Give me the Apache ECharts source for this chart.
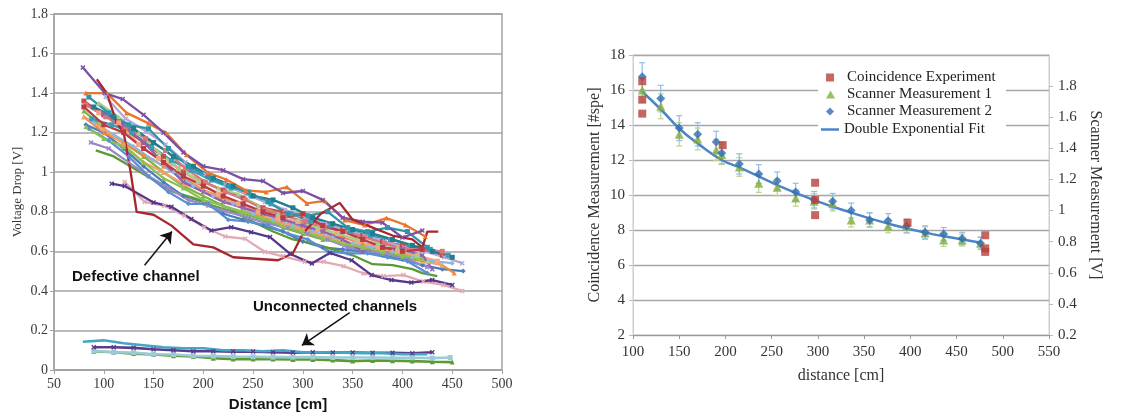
<!DOCTYPE html>
<html><head><meta charset="utf-8">
<script src="https://cdn.jsdelivr.net/npm/echarts/dist/echarts.min.js"></script>
<style>html,body{margin:0;padding:0;background:#fff}#c{width:1142px;height:417px}</style>
</head><body><div id="c"></div>
<script>
// ---------- LEFT PANEL DATA (distance cm, voltage drop V) ----------
const leftXTicks = [50,100,150,200,250,300,350,400,450,500];
const chPurpleTop = [[79,1.53],[101,1.40],[119,1.37],[140,1.29],[160,1.20],[180,1.10],[200,1.03],[220,1.01],[240,0.965],[260,0.955],[280,0.895],[300,0.905],[320,0.86],[340,0.77],[360,0.75],[380,0.745],[400,0.67],[420,0.705]];
const chOrangeTop = [[82,1.40],[103,1.40],[123,1.30],[145,1.247],[163,1.197],[183,1.088],[205,0.997],[223,0.963],[243,0.908],[263,0.90],[284,0.925],[304,0.842],[322,0.855],[342,0.758],[362,0.733],[384,0.768],[403,0.733],[423,0.675]];
const chDefective = [[93,1.47],[103,1.40],[113,1.25],[120,1.20],[127,1.00],[133,0.80],[150,0.785],[168,0.73],[190,0.635],[210,0.62],[230,0.57],[275,0.555],[290,0.59],[300,0.69],[318,0.79],[337,0.845],[350,0.76],[370,0.72],[390,0.68],[410,0.66],[420,0.62],[425,0.70],[436,0.70]];
const chIndigoLow = [[108,0.942],[121,0.93],[150,0.847],[168,0.825],[188,0.763],[208,0.705],[228,0.722],[248,0.697],[267,0.672],[287,0.588],[309,0.538],[327,0.592],[349,0.555],[369,0.48],[389,0.455],[409,0.442],[430,0.455],[450,0.43]];
const chPinkLow = [[121,0.95],[141,0.85],[161,0.83],[181,0.78],[201,0.722],[222,0.675],[242,0.663],[262,0.597],[280,0.575],[302,0.547],[321,0.547],[341,0.525],[361,0.488],[381,0.475],[401,0.48],[421,0.447],[441,0.43],[460,0.40]];
const chA = [[82,1.24],[100,1.20],[120,1.12],[140,1.03],[160,0.95],[180,0.88],[200,0.85],[220,0.79],[240,0.76],[260,0.73],[280,0.70],[300,0.65],[320,0.62],[340,0.61],[360,0.60],[380,0.58],[400,0.56],[420,0.53],[440,0.51],[461,0.50]];
const chB = [[80,1.31],[100,1.22],[120,1.15],[140,1.08],[160,1.00],[180,0.93],[200,0.88],[220,0.83],[240,0.79],[260,0.76],[280,0.72],[300,0.69],[320,0.66],[340,0.64],[360,0.61],[380,0.59],[400,0.57],[420,0.55]];
const chC = [[92,1.11],[110,1.08],[130,1.02],[150,0.96],[170,0.90],[190,0.87],[210,0.83],[230,0.80],[250,0.75],[270,0.70],[290,0.66],[310,0.64],[330,0.61],[350,0.58],[370,0.535],[390,0.53],[410,0.51],[420,0.49],[435,0.475]];
const chD = [[87,1.15],[105,1.12],[125,1.05],[145,0.98],[165,0.92],[185,0.86],[205,0.83],[225,0.80],[245,0.77],[265,0.74],[285,0.72],[305,0.69],[325,0.66],[345,0.62],[365,0.60],[385,0.59],[405,0.56],[425,0.52]];
const chE = [[85,1.38],[105,1.30],[125,1.24],[145,1.22],[165,1.12],[185,1.03],[205,0.98],[225,0.93],[245,0.90],[265,0.85],[285,0.79],[305,0.78],[325,0.80],[345,0.72],[365,0.70],[385,0.72],[405,0.70],[425,0.62]];
const chF = [[88,1.27],[108,1.24],[128,1.20],[148,1.13],[168,1.06],[188,1.01],[208,0.96],[228,0.92],[248,0.88],[268,0.84],[288,0.79],[308,0.75],[328,0.73],[348,0.70],[368,0.68],[388,0.66],[408,0.63],[428,0.61],[446,0.58]];
const chG = [[80,1.36],[100,1.29],[120,1.22],[140,1.15],[160,1.08],[180,1.00],[200,0.95],[220,0.91],[240,0.87],[260,0.82],[280,0.80],[300,0.78],[320,0.73],[340,0.71],[360,0.68],[380,0.65],[400,0.63],[420,0.61],[440,0.58]];
const chH = [[80,1.28],[100,1.20],[120,1.15],[140,1.09],[160,1.03],[180,0.97],[200,0.91],[220,0.87],[240,0.82],[260,0.79],[280,0.76],[300,0.72],[320,0.70],[340,0.67],[360,0.64],[380,0.62],[400,0.59],[420,0.56],[440,0.53],[452,0.49]];
const chI = [[95,1.30],[115,1.25],[135,1.14],[155,1.07],[175,1.02],[195,0.95],[215,0.89],[235,0.84],[255,0.80],[275,0.77],[295,0.75],[315,0.71],[335,0.69],[355,0.65],[375,0.62],[395,0.60],[415,0.58],[435,0.55]];
const chJ = [[90,1.25],[110,1.19],[130,1.13],[150,1.06],[170,1.00],[190,0.93],[210,0.88],[230,0.84],[250,0.79],[270,0.76],[290,0.73],[310,0.70],[330,0.67],[350,0.64],[370,0.62],[390,0.60],[410,0.57],[430,0.55],[450,0.54]];
const chK = [[95,1.35],[115,1.28],[135,1.20],[155,1.10],[175,1.02],[195,0.96],[215,0.92],[235,0.89],[255,0.83],[275,0.79],[295,0.76],[315,0.72],[335,0.69],[355,0.66],[375,0.64],[395,0.62],[415,0.58],[425,0.55]];
const chL = [[102,1.38],[122,1.27],[142,1.21],[162,1.14],[182,1.05],[202,0.99],[222,0.94],[242,0.89],[262,0.85],[282,0.81],[302,0.77],[322,0.74],[342,0.71],[362,0.68],[382,0.65],[402,0.62],[422,0.60],[442,0.57],[460,0.54]];
const chM = [[82,1.34],[102,1.28],[122,1.23],[142,1.17],[162,1.11],[182,1.02],[202,0.95],[222,0.90],[242,0.86],[262,0.81],[282,0.78],[302,0.75],[322,0.72],[342,0.70],[362,0.67],[382,0.64],[402,0.61],[422,0.61],[440,0.60]];
const chN = [[85,1.22],[105,1.16],[125,1.08],[145,0.98],[165,0.90],[185,0.84],[205,0.84],[225,0.76],[245,0.75],[265,0.73],[285,0.69],[305,0.66],[325,0.60],[345,0.59],[365,0.59],[385,0.57],[405,0.55],[425,0.49]];
const chO = [[80,1.28],[100,1.22],[120,1.14],[140,1.05],[160,1.00],[180,0.94],[200,0.91],[220,0.86],[240,0.82],[260,0.78],[280,0.74],[300,0.71],[320,0.68],[340,0.65],[360,0.62],[380,0.61],[400,0.60],[420,0.55],[440,0.53]];
const chP = [[100,1.30],[120,1.24],[140,1.15],[160,1.05],[180,0.95],[200,0.90],[220,0.85],[240,0.82],[260,0.79],[280,0.76],[300,0.73],[320,0.70],[340,0.66],[360,0.60],[380,0.62],[400,0.61],[420,0.58],[430,0.51]];
const chQ = [[82,1.23],[100,1.17],[120,1.13],[140,1.05],[160,0.97],[180,0.92],[200,0.86],[220,0.83],[240,0.80],[260,0.77],[280,0.73],[300,0.70],[320,0.67],[340,0.64],[360,0.62],[380,0.60],[400,0.58],[420,0.56]];
const chR = [[90,1.33],[110,1.28],[130,1.22],[150,1.15],[170,1.08],[190,1.03],[210,0.97],[230,0.93],[250,0.88],[270,0.86],[290,0.82],[310,0.77],[330,0.74],[350,0.71],[370,0.69],[390,0.66],[410,0.63],[430,0.60],[450,0.57]];
const chS = [[80,1.33],[100,1.24],[120,1.20],[140,1.12],[160,1.05],[180,0.98],[200,0.93],[220,0.88],[240,0.84],[260,0.80],[280,0.77],[300,0.79],[320,0.73],[340,0.70],[360,0.66],[380,0.62],[400,0.60],[420,0.61]];
// unconnected channels
const ucTeal = [[79,0.143],[100,0.15],[120,0.135],[140,0.125],[160,0.115],[180,0.11],[200,0.11],[220,0.10],[240,0.10],[260,0.095],[280,0.10],[300,0.09],[320,0.09],[340,0.088],[360,0.085],[380,0.085],[400,0.08],[425,0.08]];
const ucPurple = [[90,0.115],[110,0.115],[130,0.112],[150,0.105],[170,0.10],[190,0.095],[210,0.095],[230,0.093],[250,0.093],[270,0.09],[290,0.088],[310,0.09],[330,0.088],[350,0.088],[370,0.087],[390,0.087],[410,0.085],[430,0.09]];
const ucGreen = [[90,0.095],[110,0.09],[130,0.083],[150,0.078],[170,0.072],[190,0.068],[210,0.06],[230,0.055],[250,0.055],[270,0.055],[290,0.053],[310,0.053],[330,0.05],[350,0.045],[370,0.048],[390,0.047],[410,0.045],[430,0.042],[450,0.04]];
const ucLightBlue = [[90,0.097],[110,0.09],[130,0.088],[150,0.08],[170,0.078],[190,0.072],[210,0.07],[230,0.068],[250,0.067],[270,0.065],[290,0.065],[310,0.065],[330,0.063],[350,0.063],[370,0.063],[390,0.062],[410,0.062],[430,0.06],[448,0.063]];
// annotation arrows (data coordinates: from, to)
const arrowDefective = [[141,0.53],[168.5,0.70]];
const arrowUnconnected = [[347,0.29],[299,0.125]];

// ---------- RIGHT PANEL DATA ----------
const coincX = [110,110,110,197,297,297,297,397,481,481,481];
const coincY = [16.5,15.45,14.65,12.85,10.7,9.72,8.85,8.42,7.7,6.95,6.75];
const scanX  = [110,130,150,170,190,196,215,236,256,276,296,316,336,356,376,396,416,436,456,476];
const scan1V = [1.775,1.67,1.49,1.46,1.39,1.36,1.28,1.175,1.15,1.08,1.06,1.045,0.94,0.94,0.90,0.90,0.855,0.81,0.81,0.79];
const scan1Err = [0.08,0.08,0.075,0.07,0.068,0.065,0.06,0.058,0.055,0.052,0.05,0.048,0.046,0.045,0.043,0.042,0.04,0.04,0.038,0.037];
const scan2V = [1.86,1.72,1.53,1.49,1.44,1.37,1.30,1.235,1.19,1.12,1.07,1.06,1.00,0.94,0.935,0.90,0.86,0.85,0.82,0.79];
const scan2Err = [0.09,0.085,0.08,0.075,0.07,0.068,0.065,0.06,0.058,0.055,0.053,0.05,0.048,0.046,0.045,0.044,0.042,0.041,0.04,0.04];
const fitX = [110,130,150,170,196,215,256,296,336,375,416,455,475];
const fitY = [15.9,14.9,13.8,12.95,12.0,11.58,10.57,9.71,8.99,8.38,7.85,7.47,7.28];

// ---------- STYLE ----------
const SERIF = 'Liberation Serif';
const SANS = 'Liberation Sans';
const XSYM = 'path://M0,2L2,0L5,3L8,0L10,2L7,5L10,8L8,10L5,7L2,10L0,8L3,5Z';
const leftStyles = [
  [chA,'#4a7ebb','diamond'],[chB,'#7ab648','triangle'],[chC,'#5a9a32','none'],[chD,'#9a88c8',XSYM],
  [chF,'#3a9db5','rect'],[chG,'#c0504d','rect'],[chH,'#f08a3c','triangle'],[chI,'#f4a582','rect'],
  [chJ,'#8fb6de','diamond'],[chK,'#a8d08d','triangle'],[chL,'#b4a7d6',XSYM],[chM,'#d9777a','rect'],
  [chN,'#5b8fd1','diamond'],[chO,'#f6a06a','triangle'],[chP,'#8a63b8',XSYM],[chQ,'#8cc152','triangle'],
  [chR,'#217d8f','rect'],[chS,'#b83c44','rect'],[chE,'#2e95a8','rect'],
  [chPinkLow,'#e3aab4',XSYM],[chIndigoLow,'#55388a',XSYM],[chOrangeTop,'#e8762c','triangle'],
  [chPurpleTop,'#7b4fa6',XSYM],[chDefective,'#a8262e','none'],
  [ucGreen,'#5d9a32','triangle'],[ucLightBlue,'#9bcbd8','rect'],[ucPurple,'#5a3c8c',XSYM],[ucTeal,'#45a5c4','none']
];
const series = leftStyles.map(([d,c,s],i)=>({
  type:'line', xAxisIndex:0, yAxisIndex:0, data:d, symbol:s, symbolSize:5, showSymbol:s!=='none',
  lineStyle:{color:c,width:(i>=24?2.6:2.3)}, itemStyle:{color:c}, silent:true, z:2
}));
// arrows
series.push({type:'line', xAxisIndex:0, yAxisIndex:0, data:[], silent:true,
  markLine:{silent:true, symbol:['none','arrow'], symbolSize:11, label:{show:false},
    lineStyle:{color:'#111',width:1.5,type:'solid'}, animation:false,
    data:[[{coord:arrowDefective[0]},{coord:arrowDefective[1]}],[{coord:arrowUnconnected[0]},{coord:arrowUnconnected[1]}]]}});

// right panel
function errBars(vals, errs, color){
  return {type:'custom', xAxisIndex:1, yAxisIndex:2, silent:true, z:1,
    data: scanX.map((x,i)=>[x, vals[i]-errs[i], vals[i]+errs[i]]),
    renderItem(params, api){
      const x=api.value(0); const lo=api.coord([x,api.value(1)]); const hi=api.coord([x,api.value(2)]);
      const st={stroke:color,lineWidth:1.2}; const w=3;
      return {type:'group',children:[
        {type:'line',shape:{x1:lo[0],y1:lo[1],x2:hi[0],y2:hi[1]},style:st},
        {type:'line',shape:{x1:lo[0]-w,y1:lo[1],x2:lo[0]+w,y2:lo[1]},style:st},
        {type:'line',shape:{x1:hi[0]-w,y1:hi[1],x2:hi[0]+w,y2:hi[1]},style:st}]};
    }};
}
series.push(errBars(scan1V, scan1Err, '#b9d68f'));
series.push(errBars(scan2V, scan2Err, '#93bde6'));
series.push({name:'Double Exponential Fit', type:'line', xAxisIndex:1, yAxisIndex:1, smooth:true, symbol:'none',
  data: fitX.map((x,i)=>[x,fitY[i]]), lineStyle:{color:'#4a86c5',width:2.5}, itemStyle:{color:'#4a86c5'}, silent:true, z:3});
series.push({name:'Scanner Measurement 1', type:'scatter', xAxisIndex:1, yAxisIndex:2, symbol:'triangle', symbolSize:9,
  data: scanX.map((x,i)=>[x,scan1V[i]]), itemStyle:{color:'#85ad3c'}, silent:true, z:4});
series.push({name:'Scanner Measurement 2', type:'scatter', xAxisIndex:1, yAxisIndex:2, symbol:'diamond', symbolSize:9,
  data: scanX.map((x,i)=>[x,scan2V[i]]), itemStyle:{color:'#2f6db5'}, silent:true, z:5});
series.push({name:'Coincidence Experiment', type:'scatter', xAxisIndex:1, yAxisIndex:1, symbol:'rect', symbolSize:8,
  data: coincX.map((x,i)=>[x,coincY[i]]), itemStyle:{color:'#b8403a'}, silent:true, z:6});

const lblSerif = (sz,col)=>({fontFamily:SERIF,fontSize:sz,color:col});
function leg(name, icon, left, top, w, h, pad){
  return {show:true, selectedMode:false, left:left, top:top, padding:0, itemWidth:w, itemHeight:h, z:10,
    data:[{name:name, icon:icon}], textStyle:{fontFamily:SERIF,fontSize:15,color:'#222',padding:[0,0,0,pad]}};
}
const option = {
  animation:false, backgroundColor:'#fff',
  grid:[
    {left:54, top:14, width:448, height:359, show:true, borderColor:'#a3a3a3', borderWidth:1.5},
    {left:633, top:55, width:416, height:280, show:true, borderColor:'#cfcfcf', borderWidth:1}
  ],
  xAxis:[
    {gridIndex:0, type:'value', min:50, max:500, interval:50,
     axisLine:{lineStyle:{color:'#a3a3a3',width:1.5}}, axisTick:{show:true,length:4,lineStyle:{color:'#a3a3a3'}},
     splitLine:{show:false}, axisLabel:Object.assign({margin:7},lblSerif(14,'#3a3a3a')),
     name:'Distance [cm]', nameLocation:'middle', nameGap:27,
     nameTextStyle:{fontFamily:SANS,fontWeight:'bold',fontSize:15,color:'#111'}},
    {gridIndex:1, type:'value', min:100, max:550, interval:50,
     axisLine:{lineStyle:{color:'#9a9a9a',width:1.2}}, axisTick:{show:true,length:4,lineStyle:{color:'#9a9a9a'}},
     splitLine:{show:false}, axisLabel:Object.assign({margin:10},lblSerif(15,'#333')),
     name:'distance [cm]', nameLocation:'middle', nameGap:33, nameTextStyle:lblSerif(16,'#333')}
  ],
  yAxis:[
    {gridIndex:0, type:'value', min:0, max:1.8, interval:0.2,
     axisLine:{show:true,lineStyle:{color:'#a3a3a3',width:1.5}}, axisTick:{show:true,length:4,lineStyle:{color:'#a3a3a3'}},
     splitLine:{lineStyle:{color:'#a3a3a3',width:1.5}}, axisLabel:Object.assign({margin:6},lblSerif(14,'#3a3a3a')),
     name:'Voltage Drop [V]', nameLocation:'middle', nameGap:30, nameTextStyle:lblSerif(13,'#3a3a3a')},
    {gridIndex:1, type:'value', min:2, max:18, interval:2,
     axisLine:{show:true,lineStyle:{color:'#cfcfcf'}}, axisTick:{show:true,length:4,lineStyle:{color:'#bbb'}},
     splitLine:{lineStyle:{color:'#a6a6a6',width:1.3}}, axisLabel:Object.assign({margin:8},lblSerif(15,'#333')),
     name:'Coincidence Measurement [#spe]', nameLocation:'middle', nameGap:30, nameTextStyle:lblSerif(16,'#333')},
    {gridIndex:1, type:'value', position:'right', min:0.2, max:2.0, interval:0.2,
     axisLine:{show:true,lineStyle:{color:'#cfcfcf'}}, axisTick:{show:true,length:4,lineStyle:{color:'#bbb'}},
     splitLine:{show:false}, axisLabel:Object.assign({margin:9,showMaxLabel:false},lblSerif(15,'#333')),
     name:'Scanner Measurement [V]', nameLocation:'middle', nameGap:38, nameRotate:-90, nameTextStyle:lblSerif(16,'#333')}
  ],
  legend:[
    leg('Coincidence Experiment','rect',826,70,8,8,8),
    leg('Scanner Measurement 1','triangle',826,87,9,8,7),
    leg('Scanner Measurement 2','diamond',826,104,8,8,8),
    leg('Double Exponential Fit','rect',821,122,18,2.5,0)
  ],
  graphic:[
    {type:'rect', left:818, top:62, shape:{width:188,height:82}, style:{fill:'#fff'}, z:5, silent:true},
    {type:'text', left:72, top:269, style:{text:'Defective channel', fontFamily:SANS, fontWeight:'bold', fontSize:15, fill:'#111'}, z:10},
    {type:'text', left:253, top:299, style:{text:'Unconnected channels', fontFamily:SANS, fontWeight:'bold', fontSize:15, fill:'#111'}, z:10}
  ],
  series: series
};
const chart = echarts.init(document.getElementById('c'), null, {renderer:'canvas'});
chart.setOption(option);
</script></body></html>
